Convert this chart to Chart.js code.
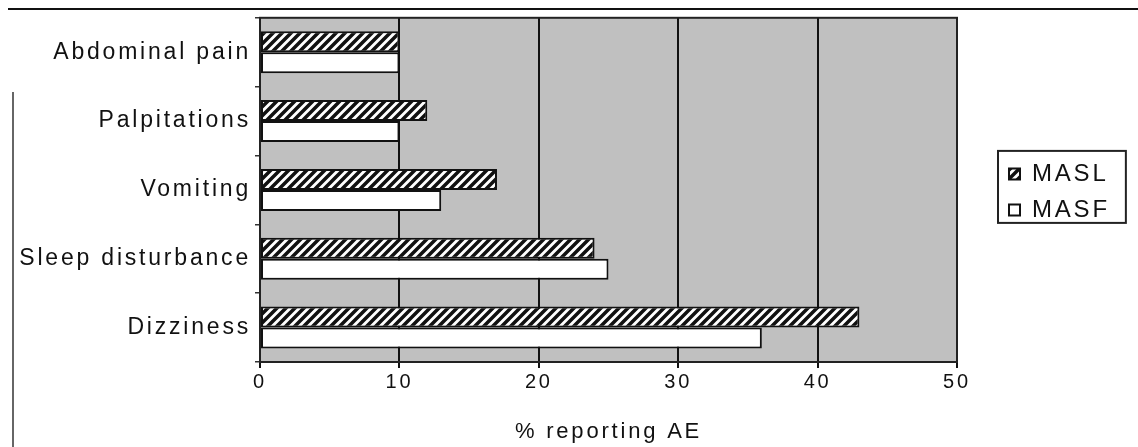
<!DOCTYPE html>
<html>
<head>
<meta charset="utf-8">
<script src="https://cdn.jsdelivr.net/npm/chart.js@4/dist/chart.umd.min.js"></script>
<style>
    html, body { margin: 0; padding: 0; background: #fff; }
    #wrap { position: relative; width: 1138px; height: 447px; }
    #topline { position: absolute; left: 8px; top: 8px; width: 1130px; height: 2px; background: #111; }
    #leftline { position: absolute; left: 12px; top: 92px; width: 2px; height: 355px; background: #666; }
</style>
</head>
<body>
<div id="wrap">
    <canvas id="myChart" width="1138" height="447"></canvas>
    <div id="topline"></div>
    <div id="leftline"></div>
</div>
<script>
// values
let categories = ["Abdominal pain", "Palpitations", "Vomiting", "Sleep disturbance", "Dizziness"];
let masl = [10, 12, 17, 24, 43];
let masf = [10, 10, 13, 25, 36];
let x_ticks = [0, 10, 20, 30, 40, 50];

const SPACING = "2.8px";
const FONT = "'Liberation Sans', Arial, sans-serif";

// diagonal hatch for MASL
function make_hatch() {
    let s = 9;
    let c = document.createElement("canvas");
    c.width = s;
    c.height = s;
    let g = c.getContext("2d");
    g.fillStyle = "#fff";
    g.fillRect(0, 0, s, s);
    g.strokeStyle = "#111";
    g.lineWidth = 3.5;
    g.beginPath();
    g.moveTo(-s, s); g.lineTo(s, -s);
    g.moveTo(0, 2 * s); g.lineTo(2 * s, 0);
    g.moveTo(0, s); g.lineTo(s, 0);
    g.stroke();
    return document.getElementById("myChart").getContext("2d").createPattern(c, "repeat");
}

const frame_plugin = {
    id: "frame",
    beforeLayout(chart) {
        chart.ctx.letterSpacing = SPACING;
        let lg = chart.legend;
        if (lg && !lg._wrapped) {
            let fit = lg.fit;
            lg.fit = function () {
                fit.call(this);
                this.width = 181;
            };
            lg._wrapped = true;
        }
    },
    afterLayout(chart) {
        let lg = chart.legend;
        let a = chart.chartArea;
        let w = lg.width;
        lg.left = a.right + 40;
        lg.right = lg.left + w;
        lg.top = a.top + 2;
        lg.bottom = a.bottom + 2;
        lg.height = a.bottom - a.top;
    },
    beforeDraw(chart) {
        let ctx = chart.ctx;
        ctx.letterSpacing = SPACING;
        let a = chart.chartArea;
        ctx.save();
        ctx.fillStyle = "#c0c0c0";
        ctx.fillRect(a.left, a.top, a.right - a.left, a.bottom - a.top);
        ctx.restore();
    },
    beforeDatasetsDraw(chart) {
        let ctx = chart.ctx;
        let a = chart.chartArea;
        ctx.save();
        ctx.strokeStyle = "#222";
        ctx.lineWidth = 2;
        ctx.strokeRect(a.left, a.top, a.right - a.left, a.bottom - a.top);
        ctx.restore();
    },
    afterDraw(chart) {
        // border round the legend
        let boxes = chart.legend.legendHitBoxes;
        if (!boxes || !boxes.length) return;
        let l = Math.min(...boxes.map((b) => b.left)) - 11;
        let r = Math.max(...boxes.map((b) => b.left + b.width)) + 16;
        let t = Math.min(...boxes.map((b) => b.top)) - 11;
        let btm = Math.max(...boxes.map((b) => b.top + b.height)) + 1;
        let ctx = chart.ctx;
        ctx.save();
        ctx.strokeStyle = "#222";
        ctx.lineWidth = 2;
        ctx.strokeRect(l, t, r - l, btm - t);
        ctx.restore();
    },
};

let hatch = make_hatch();
const ctx = document.getElementById("myChart").getContext("2d");

let my_chart = new Chart(ctx, {
    type: "bar",
    data: {
        labels: categories,
        datasets: [
            {
                label: "MASL",
                data: masl,
                backgroundColor: hatch,
                borderColor: "#111",
                borderWidth: 2,
                borderSkipped: false,
                categoryPercentage: 0.61,
                barPercentage: 1.0,
            },
            {
                label: "MASF",
                data: masf,
                backgroundColor: "#fff",
                borderColor: "#111",
                borderWidth: 2,
                borderSkipped: false,
                categoryPercentage: 0.61,
                barPercentage: 1.0,
            },
        ],
    },
    options: {
        indexAxis: "y",
        responsive: false,
        animation: false,
        devicePixelRatio: 1,
        layout: { padding: { top: 15, left: 0, right: 0, bottom: 0 } },
        plugins: {
            tooltip: { enabled: false },
            legend: {
                position: "right",
                align: "center",
                labels: {
                    boxWidth: 11,
                    boxHeight: 11,
                    padding: 12,
                    color: "#111",
                    font: { family: FONT, size: 24 },
                },
            },
        },
        scales: {
            x: {
                min: 0,
                max: 50,
                afterBuildTicks: (scale) => {
                    scale.ticks = x_ticks.map((v) => ({ value: v }));
                },
                afterFit: (scale) => {
                    scale.height = 85;
                },
                grid: {
                    color: "#111",
                    lineWidth: 2,
                    tickLength: 6,
                },
                border: { display: true, color: "#111", width: 2 },
                ticks: {
                    color: "#111",
                    padding: 2,
                    font: { family: FONT, size: 20 },
                },
                title: {
                    display: true,
                    text: "% reporting AE",
                    color: "#111",
                    padding: { top: 0, bottom: 2 },
                    font: { family: FONT, size: 22 },
                },
            },
            y: {
                afterFit: (scale) => {
                    scale.width = 260;
                },
                grid: {
                    drawOnChartArea: false,
                    offset: true,
                    color: "#333",
                    lineWidth: 1.5,
                    tickLength: 5,
                },
                border: { display: true, color: "#111", width: 2 },
                ticks: {
                    color: "#111",
                    padding: 4,
                    autoSkip: false,
                    font: { family: FONT, size: 23 },
                },
            },
        },
    },
    plugins: [frame_plugin],
});
</script>
</body>
</html>
